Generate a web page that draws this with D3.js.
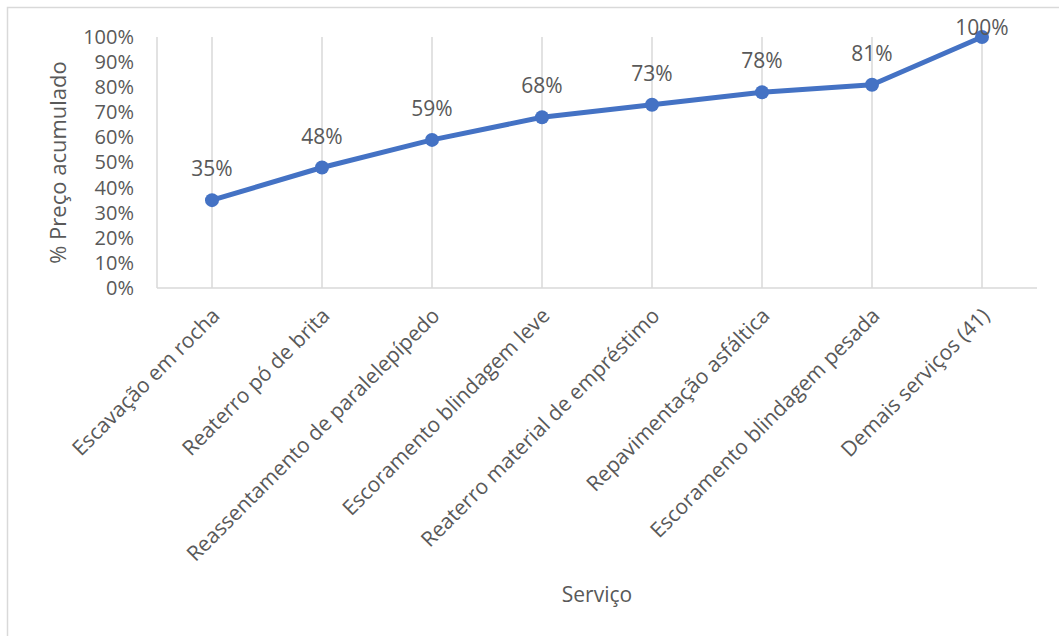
<!DOCTYPE html>
<html>
<head>
<meta charset="utf-8">
<script src="https://cdn.jsdelivr.net/npm/d3@7"></script>
<style>
  html, body { margin: 0; padding: 0; background: #fff; }
  svg text { font-family: "Open Sans", "Noto Sans", sans-serif; fill: #595959; }
</style>
</head>
<body>
<svg id="chart" width="1059" height="636"></svg>
<script>
// Serviços ordenados e percentual acumulado do preço
const categories = [
  "Escavação em rocha",
  "Reaterro pó de brita",
  "Reassentamento de paralelepípedo",
  "Escoramento blindagem leve",
  "Reaterro material de empréstimo",
  "Repavimentação asfáltica",
  "Escoramento blindagem pesada",
  "Demais serviços (41)"
];
const cumulative = [35, 48, 59, 68, 73, 78, 81, 100];
const yTicks = [0, 10, 20, 30, 40, 50, 60, 70, 80, 90, 100];
const yTitle = "% Preço acumulado";
const xTitle = "Serviço";

const svg = d3.select("#chart");
const grid = "#d9d9d9";
const blue = "#4472C4";

// chart frame
svg.append("rect")
  .attr("x", 7.5).attr("y", 7.5)
  .attr("width", 1070).attr("height", 650)
  .attr("fill", "none").attr("stroke", grid).attr("stroke-width", 1.5);

const plot = { left: 157, right: 1037, top: 37, bottom: 288 };

const x = d3.scaleBand().domain(categories).range([plot.left, plot.right]);
const y = d3.scaleLinear().domain([0, 100]).range([plot.bottom, plot.top]);
const cx = d => x(d) + x.bandwidth() / 2;

// vertical gridlines at each category
svg.append("g").selectAll("line").data(categories).join("line")
  .attr("x1", d => cx(d)).attr("x2", d => cx(d))
  .attr("y1", plot.top).attr("y2", plot.bottom)
  .attr("stroke", grid).attr("stroke-width", 1.5);

// axis lines
svg.append("line")
  .attr("x1", plot.left).attr("x2", plot.left)
  .attr("y1", plot.top).attr("y2", plot.bottom)
  .attr("stroke", grid).attr("stroke-width", 1.5);
svg.append("line")
  .attr("x1", plot.left).attr("x2", plot.right)
  .attr("y1", plot.bottom).attr("y2", plot.bottom)
  .attr("stroke", grid).attr("stroke-width", 1.5);

// y axis labels
const yAxis = d3.axisLeft(y).tickValues(yTicks).tickFormat(d => d + "%").tickSize(0).tickPadding(23);
const gy = svg.append("g").attr("transform", `translate(${plot.left},0)`).call(yAxis);
gy.select(".domain").remove();
gy.selectAll("text").style("font-size", "20px").attr("fill", "#595959")
  .style("font-family", '"Open Sans", sans-serif');

// x axis labels, rotated
const xAxis = d3.axisBottom(x).tickSize(0).tickPadding(0);
const gx = svg.append("g").attr("transform", `translate(0,${plot.bottom})`).call(xAxis);
gx.select(".domain").remove();
gx.selectAll("text")
  .style("font-size", "21px").attr("fill", "#595959")
  .style("font-family", '"Open Sans", sans-serif')
  .attr("text-anchor", "end")
  .attr("dy", null)
  .attr("transform", "translate(9,29) rotate(-45)");

// line and markers
const line = d3.line().x((d, i) => cx(categories[i])).y(d => y(d));
svg.append("path").datum(cumulative)
  .attr("d", line).attr("fill", "none")
  .attr("stroke", blue).attr("stroke-width", 5).attr("stroke-linejoin", "round");

svg.append("g").selectAll("circle").data(cumulative).join("circle")
  .attr("cx", (d, i) => cx(categories[i])).attr("cy", d => y(d))
  .attr("r", 7).attr("fill", blue);

// value labels
svg.append("g").selectAll("text").data(cumulative).join("text")
  .attr("x", (d, i) => cx(categories[i]))
  .attr("y", d => Math.max(y(d) - 24, 35))
  .attr("text-anchor", "middle")
  .style("font-size", "21px")
  .text(d => d + "%");

// axis titles
svg.append("text")
  .attr("transform", `translate(66,${(plot.top + plot.bottom) / 2}) rotate(-90)`)
  .attr("text-anchor", "middle")
  .style("font-size", "22px")
  .text(yTitle);

svg.append("text")
  .attr("x", 597).attr("y", 602)
  .attr("text-anchor", "middle")
  .style("font-size", "21px")
  .text(xTitle);
</script>
</body>
</html>
